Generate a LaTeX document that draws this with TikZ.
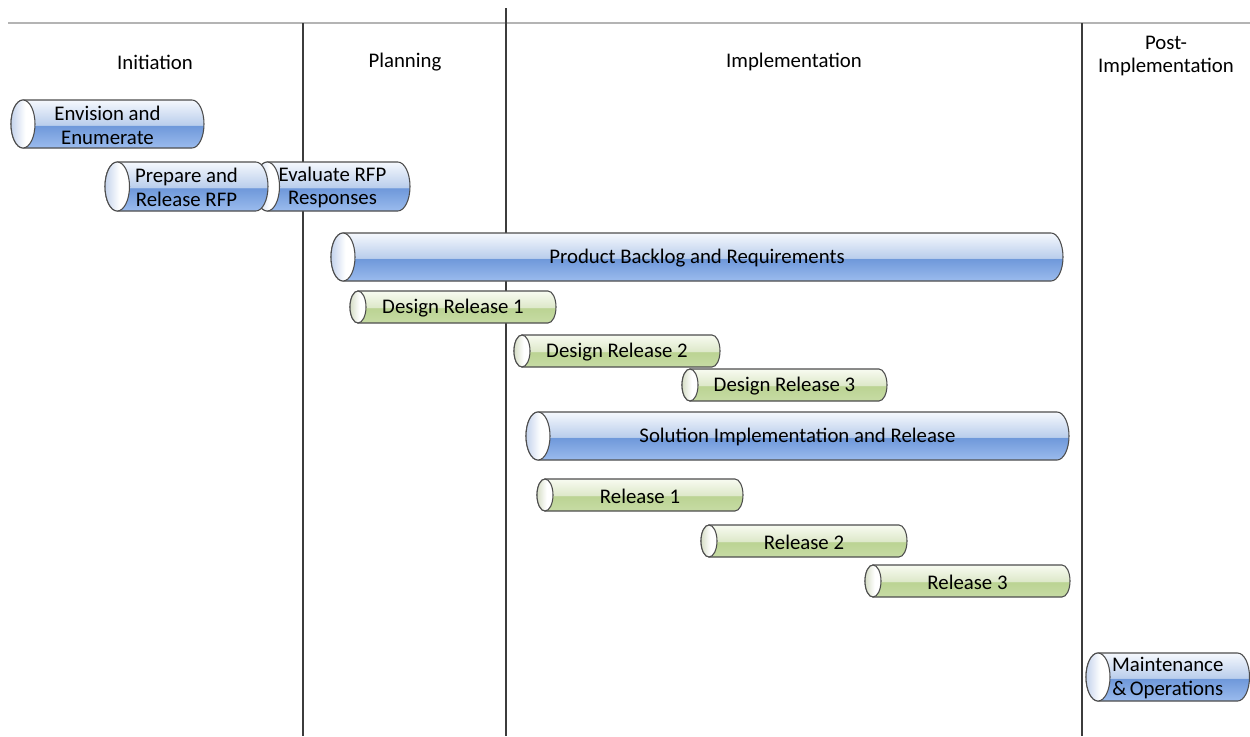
\documentclass[tikz,border=0pt]{standalone}
\usepackage{fontspec}
\setmainfont{Carlito}
\definecolor{cylline}{HTML}{4D4D4D}
\definecolor{hline}{HTML}{B4B4B4}
\definecolor{vline}{HTML}{3C3C3C}
\definecolor{bA}{HTML}{ACC8F1}
\definecolor{bB}{HTML}{98B9EC}
\definecolor{bC}{HTML}{6E98DA}
\definecolor{bD}{HTML}{BACEEC}
\definecolor{bE}{HTML}{F5F8FD}
\definecolor{gA}{HTML}{D8E6C0}
\definecolor{gB}{HTML}{C6DBA3}
\definecolor{gC}{HTML}{BBD393}
\definecolor{gD}{HTML}{DDE8C9}
\definecolor{gE}{HTML}{F8FBF1}
\definecolor{capB}{HTML}{C4D3EC}
\definecolor{capG}{HTML}{D6DEC6}
\pgfdeclareverticalshading{blueshade}{100bp}{color(0bp)=(bA); color(25bp)=(bA); color(26.5bp)=(bB); color(48.3bp)=(bC); color(49bp)=(bD); color(75bp)=(bE); color(100bp)=(bE)}
\pgfdeclareverticalshading{greenshade}{100bp}{color(0bp)=(gA); color(25bp)=(gA); color(26.5bp)=(gB); color(48.3bp)=(gC); color(49bp)=(gD); color(75bp)=(gE); color(100bp)=(gE)}
\pgfdeclarehorizontalshading{capBshade}{100bp}{color(0bp)=(capB); color(25bp)=(capB); color(55bp)=(white); color(100bp)=(white)}
\pgfdeclarehorizontalshading{capGshade}{100bp}{color(0bp)=(capG); color(25bp)=(capG); color(55bp)=(white); color(100bp)=(white)}
\tikzset{
  cyltext/.style={font=\fontsize{15.6}{17.8}\selectfont, align=center, inner sep=0pt, text=black},
  header/.style={font=\fontsize{15.6}{17.8}\selectfont, align=center, inner sep=0pt},
  hrule/.style={draw=hline, line width=1.5pt},
  vrule/.style={draw=vline, line width=0.9pt},
}
% name x1 y1 x2 y2 bodyshading capshading text
\newcommand\cyl[8]{%
  \pgfmathsetmacro\cya{#2}\pgfmathsetmacro\cyb{-#3}%
  \pgfmathsetmacro\cyc{#4}\pgfmathsetmacro\cyd{-#5}%
  \pgfmathsetmacro\cyry{(#5-#3)/2}\pgfmathsetmacro\cyrx{\cyry/2}%
  \path[shading=#6, draw=cylline, line width=0.8pt] (\cya+\cyrx,\cyb) -- (\cyc-\cyrx,\cyb)
    arc[start angle=90,end angle=-90,x radius=\cyrx,y radius=\cyry]
    -- (\cya+\cyrx,\cyd)
    arc[start angle=270,end angle=90,x radius=\cyrx,y radius=\cyry] -- cycle;
  \path[shading=#7, draw=cylline, line width=0.8pt] (\cya+\cyrx,\cyb-\cyry) ellipse[x radius=\cyrx,y radius=\cyry];
  \node[cyltext] (#1) at ({(\cya+\cyc)/2},{\cyb-\cyry-1}) {#8};
}
\begin{document}
\begin{tikzpicture}[x=0.75pt,y=0.75pt]
\useasboundingbox (0,0) rectangle (1250,-736);
% frame lines
\coordinate (hl) at (8,-23);
\coordinate (hr) at (1250,-23);
\coordinate (v1t) at (303,-23);
\coordinate (v1b) at (303,-736);
\coordinate (v2t) at (506,-8);
\coordinate (v2b) at (506,-736);
\coordinate (v3t) at (1082,-23);
\coordinate (v3b) at (1082,-736);
\draw[hrule] (hl) -- (hr);
\draw[vrule] (v1t) -- (v1b);
\draw[vrule] (v2t) -- (v2b);
\draw[vrule] (v3t) -- (v3b);
% headers
\node[header] (hInit) at (155,-62) {Initiation};
\node[header] (hPlan) at (405,-62) {Planning};
\node[header] (hImpl) at (794,-62) {Implementation};
\node[header] (hPost) at (1166,-56) {Post-\\Implementation};
% cylinders
\cyl{env}{11}{100}{204}{148}{blueshade}{capBshade}{Envision and\\Enumerate}
\cyl{eval}{255}{162}{410}{211}{blueshade}{capBshade}{Evaluate RFP\\Responses}
\cyl{prep}{105}{162}{268}{211}{blueshade}{capBshade}{Prepare and\\Release RFP}
\cyl{pbr}{331}{233}{1063}{281}{blueshade}{capBshade}{Product Backlog and Requirements}
\cyl{dr1}{350}{291}{556}{323}{greenshade}{capGshade}{Design Release 1}
\cyl{dr2}{514}{335}{720}{367}{greenshade}{capGshade}{Design Release 2}
\cyl{dr3}{682}{369}{887}{401}{greenshade}{capGshade}{Design Release 3}
\cyl{sir}{526}{412}{1069}{460}{blueshade}{capBshade}{Solution Implementation and Release}
\cyl{r1}{537}{479}{743}{511}{greenshade}{capGshade}{Release 1}
\cyl{r2}{701}{525}{907}{557}{greenshade}{capGshade}{Release 2}
\cyl{r3}{865}{565}{1070}{597}{greenshade}{capGshade}{Release 3}
\cyl{mo}{1086}{653}{1249.5}{701}{blueshade}{capBshade}{Maintenance\\\&\,Operations}
\end{tikzpicture}
\end{document}
